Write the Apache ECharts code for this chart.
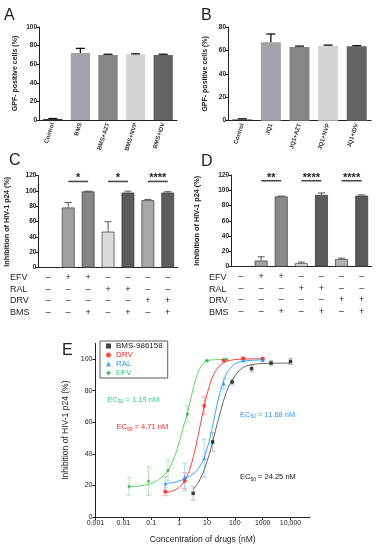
<!DOCTYPE html>
<html><head><meta charset="utf-8">
<script src="https://cdn.jsdelivr.net/npm/echarts@6/dist/echarts.min.js"></script>
<style>html,body{margin:0;padding:0;background:#fff;}#c{width:380px;height:550px;}</style>
</head><body><div id="c"></div>
<script>
// ---------- Panel A ----------
const catsA = ['Control', 'BMS', 'BMS+AZT', 'BMS+NVP', 'BMS+IDV'];
const valsA = [1, 72, 70, 70.5, 70];
const errA  = [0.6, 5, 0.7, 0.6, 0.7];
const ticksA = [0, 20, 40, 60, 80, 100];
// ---------- Panel B ----------
const catsB = ['Control', 'JQ1', 'JQ1+AZT', 'JQ1+NVP', 'JQ1+IDV'];
const valsB = [1, 67, 63, 64, 63.5];
const errB  = [0.6, 7, 0.7, 0.6, 0.6];
const ticksB = [0, 20, 40, 60, 80];
// ---------- Panels C / D ----------
const rowNames = ['EFV', 'RAL', 'DRV', 'BMS'];
const signsEFV = ['–', '+', '+', '–', '–', '–', '–'];
const signsRAL = ['–', '–', '–', '+', '+', '–', '–'];
const signsDRV = ['–', '–', '–', '–', '–', '+', '+'];
const signsBMS = ['–', '–', '+', '–', '+', '–', '+'];
const catsCD = ['0', '1', '2', '3', '4', '5', '6'];
const valsC = [null, 78.5, 99.5, 47, 98, 88, 98];
const errC  = [null, 6.5, 0.3, 13, 1.8, 1, 1.2];
const valsD = [null, 8, 92, 4.5, 94, 10, 93];
const errD  = [null, 5, 0.5, 1.5, 2.5, 1.2, 1];
const sigPairs = [[1, 2], [3, 4], [5, 6]];
const sigC = ['*', '*', '****'];
const sigD = ['**', '****', '****'];
const ticksCD = [0, 20, 40, 60, 80, 100, 120];
// ---------- Panel E ----------
const seriesNamesE = ['BMS-986158', 'DRV', 'RAL', 'EFV'];
const concBMS = [3.2, 16, 80, 400, 2000, 10000];
const valBMS  = [15, 47.5, 85.5, 94, 97.5, 98.5];
const errBMS  = [4.2, 6, 2, 2, 1.5, 2];
const concDRV = [0.32, 1.6, 8, 40, 200, 1000];
const valDRV  = [16, 23, 70.5, 99.2, 100.5, 100.3];
const errDRV  = [2.5, 5, 5.5, 0.6, 0.5, 0.4];
const concRAL = [0.32, 1.6, 8, 40, 200, 1000];
const valRAL  = [21, 25.3, 37.2, 84.5, 99.2, 99.5];
const errRAL  = [4.5, 8.5, 12, 3.5, 0.6, 0.5];
const concEFV = [0.016, 0.08, 0.4, 2, 10, 50];
const valEFV  = [19.3, 22.6, 29.4, 65.3, 99, 99.7];
const errEFV  = [5.5, 9, 6.5, 5, 0.6, 0.3];
// fitted curves
const curveBMSx = [3.2, 5, 8, 12, 16, 25, 40, 60, 80, 150, 300, 1000, 3000, 10000];
const curveBMSy = [17.5, 22, 30, 39.5, 47.5, 61, 74, 82.5, 86.5, 93, 96, 97.2, 97.4, 97.5];
const curveDRVx = [0.32, 0.6, 1, 1.6, 2.5, 4, 6, 8, 12, 18, 30, 50, 100, 200, 1000];
const curveDRVy = [15.5, 16.5, 18.7, 23, 31, 44.8, 59.8, 70.5, 82.6, 90.7, 96.1, 98.5, 99.7, 100, 100.2];
const curveRALx = [0.32, 0.6, 1, 1.6, 2.5, 4, 6, 8, 12, 18, 25, 40, 60, 100, 200, 1000];
const curveRALy = [21.2, 21.8, 22.8, 24.3, 26, 28.8, 33, 37.5, 48, 62, 74, 86.5, 92.9, 96.8, 98.7, 99.5];
const curveEFVx = [0.016, 0.03, 0.06, 0.1, 0.2, 0.4, 0.7, 1, 1.4, 2, 3, 4, 6, 10, 20, 50];
const curveEFVy = [19.2, 19.4, 20.2, 21.2, 24, 29.4, 38.5, 47, 56.5, 66, 79, 87.5, 95, 98.8, 99.6, 99.8];
const ec50Text = ['24.25', '4.71', '11.68', '1.19'];   // same order as seriesNamesE
const xTickValsE = [0.001, 0.01, 0.1, 1, 10, 100, 1000, 10000];
const xTickLabelsE = ['0.001', '0.01', '0.1', '1', '10', '100', '1000', '10,000'];
const xMaxE = 50000;
const yTicksE = [0, 20, 40, 60, 80, 100];

// ---------- styles ----------
const FONT = 'Liberation Sans';
const colA = ['#2a2a2a', '#a3a3a8', '#858585', '#d4d4d4', '#636363'];
const colC = ['#fff', '#a0a0a0', '#858585', '#dadada', '#5a5a5a', '#a8a8a8', '#5e5e5e'];
const colD = ['#fff', '#a4a4a4', '#8a8a8a', '#e0e0e0', '#5a5a5a', '#b0b0b0', '#5a5a5a'];
const colE = {line: ['#666666', '#ff4040', '#35a8ff', '#5bd85b'],
              pt: ['#111111', '#ff2020', '#1e8fff', '#2fae50'],
              err: ['#b8b8b8', '#f5a3a3', '#9fd0ff', '#a9e6a9'],
              txt: ['#1a1a1a', '#ff2a2a', '#2c9cf5', '#2fcf7f'],
              sym: ['rect', 'circle', 'triangle', 'diamond']};

const chart = echarts.init(document.getElementById('c'), null, {renderer: 'canvas'});

function barErr(capW, color, lw) {
  return function (params, api) {
    const i = api.value(0);
    const p0 = api.coord([i, api.value(1)]);
    const p1 = api.coord([i, api.value(2)]);
    return {type: 'group', children: [
      {type: 'line', shape: {x1: p0[0], y1: p0[1], x2: p1[0], y2: p1[1]}, style: {stroke: color, lineWidth: lw}},
      {type: 'line', shape: {x1: p1[0] - capW / 2, y1: p1[1], x2: p1[0] + capW / 2, y2: p1[1]}, style: {stroke: color, lineWidth: lw}}
    ]};
  };
}
function sigRender(labels) {
  return function (params, api) {
    const a = api.coord([api.value(0), api.value(2)]);
    const b = api.coord([api.value(1), api.value(2)]);
    return {type: 'group', children: [
      {type: 'line', shape: {x1: a[0], y1: a[1], x2: b[0], y2: b[1]}, style: {stroke: '#4a4a4a', lineWidth: 1.6}},
      {type: 'text', style: {x: (a[0] + b[0]) / 2, y: a[1] - 3, text: labels[params.dataIndex],
        font: 'bold 11px ' + FONT, fill: '#222', align: 'center', verticalAlign: 'middle'}}
    ]};
  };
}
function errE(color) {
  return function (params, api) {
    const p0 = api.coord([api.value(0), api.value(1)]);
    const p1 = api.coord([api.value(0), api.value(2)]);
    const c = 2.5;
    const st = {stroke: color, lineWidth: 0.9};
    return {type: 'group', children: [
      {type: 'line', shape: {x1: p0[0], y1: p0[1], x2: p1[0], y2: p1[1]}, style: st},
      {type: 'line', shape: {x1: p0[0] - c, y1: p0[1], x2: p0[0] + c, y2: p0[1]}, style: st},
      {type: 'line', shape: {x1: p1[0] - c, y1: p1[1], x2: p1[0] + c, y2: p1[1]}, style: st}
    ]};
  };
}

function barYAxis(grid, max, ticks, name, gap, nameSize) {
  return {type: 'value', gridIndex: grid, min: 0, max: max, interval: 20,
    name: name, nameLocation: 'middle', nameGap: gap,
    nameTextStyle: {fontFamily: FONT, fontSize: nameSize, fontWeight: 'bold', color: '#222'},
    axisLine: {show: true, onZero: false, lineStyle: {color: '#222', width: 1}},
    axisTick: {show: true, length: 3, lineStyle: {color: '#222'}},
    axisLabel: {fontFamily: FONT, fontSize: 6.5, fontWeight: 'bold', color: '#222', margin: 2},
    splitLine: {show: false}};
}
function barXAxis(grid, cats) {
  return {type: 'category', gridIndex: grid, data: cats,
    axisLine: {onZero: false, lineStyle: {color: '#222', width: 1}}, axisTick: {show: false},
    axisLabel: {interval: 0, rotate: 72, fontFamily: FONT, fontSize: 6, fontWeight: 'bold', color: '#333', margin: 3}};
}
function tableXAxis(grid) {
  return {type: 'category', gridIndex: grid, data: catsCD,
    axisLine: {onZero: false, lineStyle: {color: '#222', width: 1}}, axisTick: {show: false},
    axisLabel: {interval: 0, fontFamily: FONT, fontSize: 9, lineHeight: 11.7, color: '#222', margin: 4,
      formatter: function (v, i) { return [signsEFV[i], signsRAL[i], signsDRV[i], signsBMS[i]].join('\n'); }}};
}

const series = [];
// A
series.push({type: 'bar', xAxisIndex: 0, yAxisIndex: 0, barWidth: '70%',
  data: valsA.map((v, i) => ({value: v, itemStyle: {color: colA[i]}}))});
series.push({type: 'custom', xAxisIndex: 0, yAxisIndex: 0, renderItem: barErr(9, '#111', 1.3), z: 5,
  encode: {x: 0, y: [1, 2]}, data: valsA.map((v, i) => [i, v, v + errA[i]])});
// B
series.push({type: 'bar', xAxisIndex: 1, yAxisIndex: 1, barWidth: '70%',
  data: valsB.map((v, i) => ({value: v, itemStyle: {color: colA[i]}}))});
series.push({type: 'custom', xAxisIndex: 1, yAxisIndex: 1, renderItem: barErr(9, '#111', 1.3), z: 5,
  encode: {x: 0, y: [1, 2]}, data: valsB.map((v, i) => [i, v, v + errB[i]])});
// C / D
[[2, valsC, errC, colC, sigC], [3, valsD, errD, colD, sigD]].forEach(function (p) {
  const g = p[0], vals = p[1], errs = p[2], cols = p[3], sig = p[4];
  series.push({type: 'bar', xAxisIndex: g, yAxisIndex: g, barWidth: '64%',
    data: vals.map((v, i) => (v === null ? '-' : {value: v, itemStyle: {color: cols[i], borderColor: '#3a3a3a', borderWidth: 0.7}}))});
  series.push({type: 'custom', xAxisIndex: g, yAxisIndex: g, renderItem: barErr(7, '#555', 1), z: 5,
    encode: {x: 0, y: [1, 2]},
    data: vals.map((v, i) => (v === null ? null : [i, v, v + errs[i]])).filter(d => d !== null)});
  series.push({type: 'custom', xAxisIndex: g, yAxisIndex: g, renderItem: sigRender(sig), clip: false, z: 6,
    encode: {x: [0, 1], y: 2}, data: sigPairs.map(pp => [pp[0], pp[1], 112.5])});
});
// E
const E = [
  [concBMS, valBMS, errBMS, curveBMSx, curveBMSy],
  [concDRV, valDRV, errDRV, curveDRVx, curveDRVy],
  [concRAL, valRAL, errRAL, curveRALx, curveRALy],
  [concEFV, valEFV, errEFV, curveEFVx, curveEFVy]
];
E.forEach(function (s, k) {
  series.push({type: 'custom', xAxisIndex: 4, yAxisIndex: 4, renderItem: errE(colE.err[k]), z: 2,
    encode: {x: 0, y: [1, 2]},
    data: s[0].map((c, i) => [Math.log10(c), s[1][i] - s[2][i], s[1][i] + s[2][i]])});
});
E.forEach(function (s, k) {
  series.push({type: 'line', xAxisIndex: 4, yAxisIndex: 4, smooth: 0.35, showSymbol: false, z: 3,
    lineStyle: {color: colE.line[k], width: 1}, itemStyle: {color: colE.line[k]},
    data: s[3].map((x, i) => [Math.log10(x), s[4][i]])});
});
E.forEach(function (s, k) {
  series.push({type: 'scatter', name: seriesNamesE[k], xAxisIndex: 4, yAxisIndex: 4, z: 4,
    symbol: colE.sym[k], symbolSize: k === 0 ? 3.5 : 4, itemStyle: {color: colE.pt[k]},
    data: s[0].map((c, i) => [Math.log10(c), s[1][i]])});
});

function ecText(k, x, y) {
  return {type: 'text', left: x, top: y, z: 10,
    style: {text: '{a|EC}{s|50}{a| = ' + ec50Text[k] + ' nM}', fill: colE.txt[k],
      rich: {a: {fontFamily: FONT, fontSize: 7.5, lineHeight: 10, fill: colE.txt[k], color: colE.txt[k]},
             s: {fontFamily: FONT, fontSize: 5, lineHeight: 6, verticalAlign: 'bottom', fill: colE.txt[k], color: colE.txt[k]}}}};
}
function letter(t, x, y) {
  return {type: 'text', left: x, top: y, style: {text: t, font: '16px ' + FONT, fill: '#222'}};
}
function rows(x) {
  return {type: 'text', left: x, top: 271.6,
    style: {text: rowNames.join('\n'), font: '9px ' + FONT, lineHeight: 11.7, fill: '#222'}};
}

const option = {
  animation: false,
  backgroundColor: '#fff',
  textStyle: {fontFamily: FONT},
  grid: [
    {left: 39, top: 27, width: 138, height: 93},
    {left: 228, top: 27, width: 143, height: 93.7},
    {left: 38.4, top: 175.7, width: 139.3, height: 92},
    {left: 231, top: 175, width: 140.7, height: 91.7},
    {left: 95.5, top: 343.3, width: 214.5, height: 173.7}
  ],
  xAxis: [
    barXAxis(0, catsA), barXAxis(1, catsB), tableXAxis(2), tableXAxis(3),
    {type: 'value', gridIndex: 4, min: Math.log10(xTickValsE[0]), max: Math.log10(xMaxE), interval: 1,
      name: 'Concentration of drugs (nM)', nameLocation: 'middle', nameGap: 18,
      nameTextStyle: {fontFamily: FONT, fontSize: 8.5, color: '#222'},
      axisLine: {show: true, onZero: false, lineStyle: {color: '#222', width: 1}},
      axisTick: {show: true, length: 3, lineStyle: {color: '#222'}, customValues: xTickValsE.map(v => Math.log10(v))},
      axisLabel: {fontFamily: FONT, fontSize: 7, color: '#222', margin: 3,
        customValues: xTickValsE.map(v => Math.log10(v)),
        formatter: function (v) { return xTickLabelsE[Math.round(v) + 3] || ''; }},
      splitLine: {show: false}}
  ],
  yAxis: [
    barYAxis(0, 100, ticksA, 'GPF- positive cells (%)', 20.5, 7),
    barYAxis(1, 80, ticksB, 'GPF- positive cells (%)', 19.5, 7),
    barYAxis(2, 120, ticksCD, 'Inhibition of HIV-1 p24 (%)', 27.5, 7.3),
    barYAxis(3, 120, ticksCD, 'Inhibition of HIV-1 p24 (%)', 30.5, 7.3),
    {type: 'value', gridIndex: 4, min: 0, max: 110, interval: 20,
      name: 'Inhibition of HIV-1 p24 (%)', nameLocation: 'middle', nameGap: 20,
      nameTextStyle: {fontFamily: FONT, fontSize: 8.5, color: '#222'},
      axisLine: {show: true, onZero: false, lineStyle: {color: '#222', width: 1}},
      axisTick: {show: true, length: 3, lineStyle: {color: '#222'}, customValues: yTicksE},
      axisLabel: {fontFamily: FONT, fontSize: 7, color: '#222', margin: 3, customValues: yTicksE},
      splitLine: {show: false}}
  ],
  legend: {
    orient: 'vertical', left: 100, top: 341, itemWidth: 5, itemHeight: 5, itemGap: 1,
    padding: [1, 5, 1, 6], borderColor: '#333', borderWidth: 0.8,
    data: seriesNamesE.map((n, k) => ({name: n, textStyle: {color: colE.txt[k]}})),
    textStyle: {fontFamily: FONT, fontSize: 8, lineHeight: 8}
  },
  series: series,
  graphic: [
    letter('A', 4, 8), letter('B', 201, 8), letter('C', 9, 153), letter('D', 201, 154), letter('E', 62, 343),
    rows(10), rows(209),
    ecText(3, 107.5, 395.5), ecText(1, 116.5, 423), ecText(2, 240, 410.5), ecText(0, 240, 473)
  ]
};
chart.setOption(option);
</script></body></html>
